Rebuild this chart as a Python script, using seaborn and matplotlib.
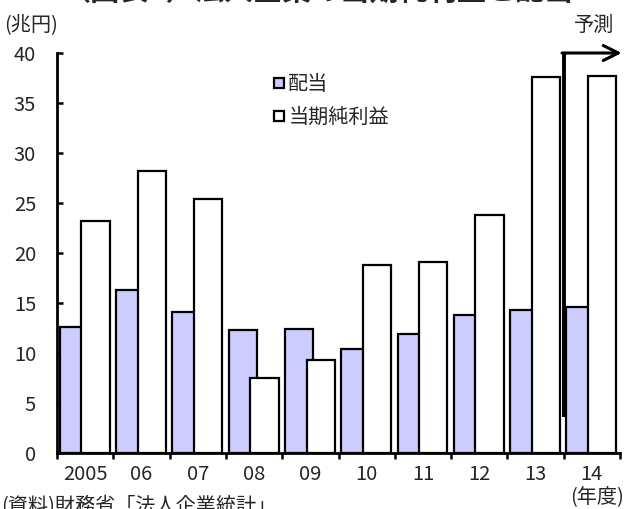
import numpy as np
import pandas as pd
import seaborn as sns
import matplotlib
matplotlib.use("Agg")
import matplotlib.pyplot as plt
from matplotlib.lines import Line2D

# 年度別の配当と当期純利益（兆円）
years = ["2005", "06", "07", "08", "09", "10", "11", "12", "13", "14"]
dividends = [12.6, 16.3, 14.1, 12.3, 12.4, 10.4, 11.9, 13.8, 14.3, 14.6]
net_income = [23.2, 28.2, 25.4, 7.5, 9.3, 18.8, 19.1, 23.8, 37.6, 37.7]
y_ticks = [0, 5, 10, 15, 20, 25, 30, 35, 40]

sns.set_theme(style="white")
plt.rcParams["font.family"] = ["Noto Sans CJK JP", "DejaVu Sans"]

FS = 14.5

fig = plt.figure(figsize=(6.24, 5.09), dpi=100)
ax = fig.add_axes([57 / 624, 56 / 509, 563 / 624, 400 / 509])

idx = np.arange(len(years))
bar_w = 0.504
df = pd.DataFrame({
    "div_pos": idx - 0.20,
    "inc_pos": idx + 0.184,
    "配当": dividends,
    "当期純利益": net_income,
})

sns.barplot(data=df, x="div_pos", y="配当", native_scale=True, width=bar_w,
            color="#CCCCFF", saturation=1, edgecolor="black", linewidth=1.6,
            ax=ax, zorder=2)
sns.barplot(data=df, x="inc_pos", y="当期純利益", native_scale=True, width=bar_w,
            color="white", saturation=1, edgecolor="black", linewidth=1.6,
            ax=ax, zorder=3)

ax.set_xlim(-0.5, len(years) - 0.5)
ax.set_ylim(0, 40)
ax.set_xlabel("")
ax.set_ylabel("")

# x軸: 区切り位置に外向きの目盛り、年度ラベルは中央
ax.set_xticks(idx)
ax.set_xticklabels(years, fontsize=FS)
ax.set_xticks(np.arange(-0.5, len(years)), minor=True)
ax.tick_params(axis="x", which="major", length=0, pad=8)
ax.tick_params(axis="x", which="minor", direction="out", length=4, width=1.8,
               color="black", bottom=True)

ax.set_yticks(y_ticks)
ax.set_yticklabels([str(v) for v in y_ticks], fontsize=FS)
ax.tick_params(axis="y", direction="in", length=4, width=1.8, color="black",
               left=True, pad=15)

for side in ["top", "right"]:
    ax.spines[side].set_visible(False)
for side in ["left", "bottom"]:
    ax.spines[side].set_color("black")
    ax.spines[side].set_linewidth(2.0)
ax.grid(False)

# 凡例
handles = [
    Line2D([], [], marker="s", linestyle="none", markersize=7.5,
           markerfacecolor="#CCCCFF", markeredgecolor="black", markeredgewidth=1.6),
    Line2D([], [], marker="s", linestyle="none", markersize=7.5,
           markerfacecolor="white", markeredgecolor="black", markeredgewidth=1.6),
]
ax.legend(handles, ["配当", "当期純利益"], loc="upper left",
          bbox_to_anchor=(0.384, 0.947), frameon=False, fontsize=FS,
          handlelength=0.6, handletextpad=0.15, labelspacing=0.58,
          borderaxespad=0, borderpad=0)

# 予測期間を示す矢印
ax.plot([8.5, 8.5], [3.6, 40], color="black", lw=2.8, clip_on=False, zorder=5,
        solid_capstyle="butt")
ax.annotate("", xy=(9.53, 40), xytext=(8.47, 40),
            arrowprops=dict(arrowstyle="->,head_length=0.9,head_width=0.45",
                            color="black", lw=2.2, shrinkA=0, shrinkB=0),
            annotation_clip=False, zorder=5)
ax.text(9.04, 42.8, "予測", ha="center", va="center", fontsize=FS)

# 単位・出所などの注記
fig.text(4 / 624, 1 - 25 / 509, "(兆円)", ha="left", va="center", fontsize=FS)
fig.text(570 / 624, 1 - 497 / 509, "(年度)", ha="left", va="center", fontsize=FS)
fig.text(1 / 624, 1 - 507 / 509, "(資料)財務省「法人企業統計」", ha="left",
         va="center", fontsize=FS)
fig.text(318 / 624, 1 - 6 / 509, "（図表7）法人企業の当期純利益と配当",
         ha="center", va="bottom", fontsize=21, fontweight="bold")

fig.savefig("out.png", dpi=100)
